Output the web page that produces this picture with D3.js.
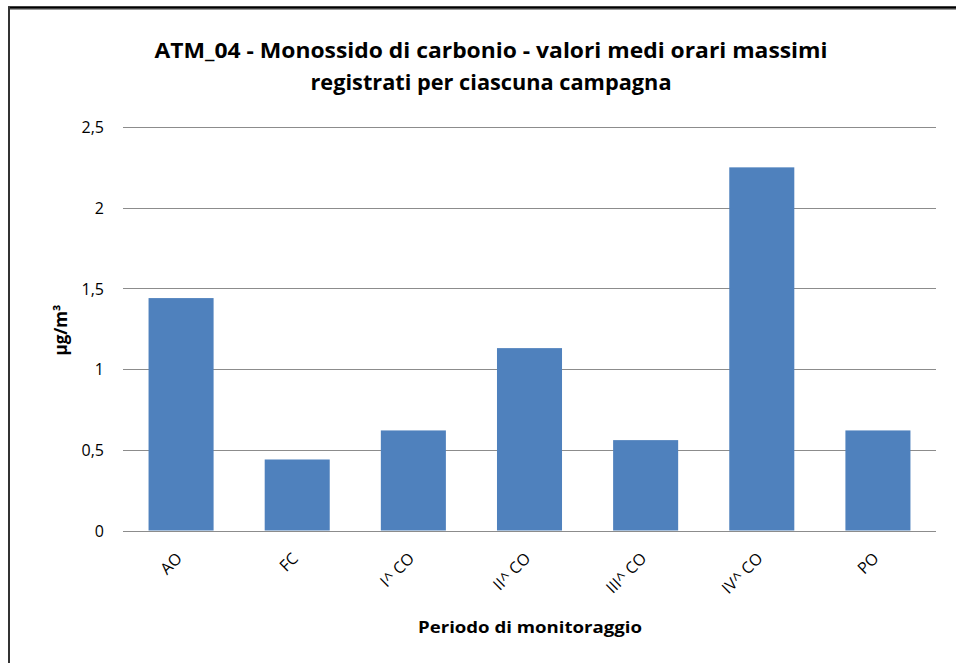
<!DOCTYPE html>
<html>
<head>
<meta charset="utf-8">
<script src="https://cdnjs.cloudflare.com/ajax/libs/d3/7.8.5/d3.min.js"></script>
<style>
  html, body { margin: 0; padding: 0; background: #fff; }
  svg { display: block; font-family: "Open Sans", "Noto Sans", sans-serif; }
</style>
</head>
<body>
<svg class="chart"></svg>
<script>
// data
var categories = ["AO", "FC", "I^ CO", "II^ CO", "III^ CO", "IV^ CO", "PO"];
var values = [1.44, 0.44, 0.62, 1.13, 0.56, 2.25, 0.62];
var yTicks = [0, 0.5, 1, 1.5, 2, 2.5];
var titleLines = ["ATM_04 - Monossido  di carbonio - valori medi orari massimi",
                  "registrati per ciascuna campagna"];

var width = 956, height = 663;
var plotLeft = 123, plotRight = 936, plotTop = 127, plotBottom = 530.5;

var svg = d3.select(".chart").attr("width", width).attr("height", height);

// frame of the clipped page
svg.append("line").attr("x1", 8).attr("x2", width).attr("y1", 7.5).attr("y2", 7.5)
  .attr("stroke", "#000").attr("stroke-width", 2.5);
svg.append("line").attr("x1", 8).attr("x2", width).attr("y1", 9.5).attr("y2", 9.5)
  .attr("stroke", "#999").attr("stroke-width", 1);
svg.append("line").attr("x1", 9).attr("x2", 9).attr("y1", 7).attr("y2", height)
  .attr("stroke", "#333").attr("stroke-width", 2);

var x = d3.scaleBand().domain(categories).range([plotLeft, plotRight]).paddingInner(0.44).paddingOuter(0.22);
var y = d3.scaleLinear().domain([0, 2.5]).range([plotBottom, plotTop]);

// gridlines
svg.append("g").selectAll("line").data(yTicks).enter().append("line")
  .attr("x1", plotLeft).attr("x2", plotRight)
  .attr("y1", function(d){ return Math.round(y(d)) + 0.5; })
  .attr("y2", function(d){ return Math.round(y(d)) + 0.5; })
  .attr("stroke", "#8c8c8c").attr("stroke-width", 1.2);

// bars
svg.append("g").selectAll("rect").data(values).enter().append("rect")
  .attr("x", function(d, i){ return x(categories[i]); })
  .attr("width", x.bandwidth())
  .attr("y", function(d){ return y(d); })
  .attr("height", function(d){ return y(0) - y(d); })
  .attr("fill", "#4f81bd");

// y axis labels
var yAxis = d3.axisLeft(y).tickValues(yTicks).tickSize(0).tickPadding(0)
  .tickFormat(function(d){ return String(d).replace(".", ","); });
var gy = svg.append("g").attr("transform", "translate(104,0)").call(yAxis);
gy.select(".domain").remove();
gy.selectAll("text").attr("font-size", 16).attr("fill", "#000")
  .attr("font-family", "Open Sans, sans-serif").attr("dy", "0.35em");

// x axis labels
var xAxis = d3.axisBottom(x).tickSize(0).tickPadding(0);
var gx = svg.append("g").attr("transform", "translate(0," + plotBottom + ")").call(xAxis);
gx.select(".domain").remove();
gx.selectAll("text").attr("font-size", 16).attr("fill", "#000")
  .attr("font-family", "Open Sans, sans-serif")
  .attr("text-anchor", "end").attr("dy", null).attr("y", 0)
  .attr("transform", "translate(2,29) rotate(-45)");

// titles
var titleWidths = [673, 361];
svg.append("g").selectAll("text").data(titleLines).enter().append("text")
  .attr("x", 491).attr("y", function(d, i){ return 58 + i * 32; })
  .attr("text-anchor", "middle").attr("font-size", 21).attr("font-weight", "bold")
  .attr("textLength", function(d, i){ return titleWidths[i]; })
  .attr("lengthAdjust", "spacingAndGlyphs")
  .text(function(d){ return d; });

svg.append("text").attr("x", 530).attr("y", 633).attr("text-anchor", "middle")
  .attr("font-size", 15.5).attr("font-weight", "bold")
  .attr("textLength", 224).attr("lengthAdjust", "spacingAndGlyphs")
  .text("Periodo di  monitoraggio");

svg.append("text").attr("transform", "translate(67,330) rotate(-90)")
  .attr("text-anchor", "middle").attr("font-size", 17).attr("font-weight", "bold")
  .text("µg/m³");
</script>
</body>
</html>
